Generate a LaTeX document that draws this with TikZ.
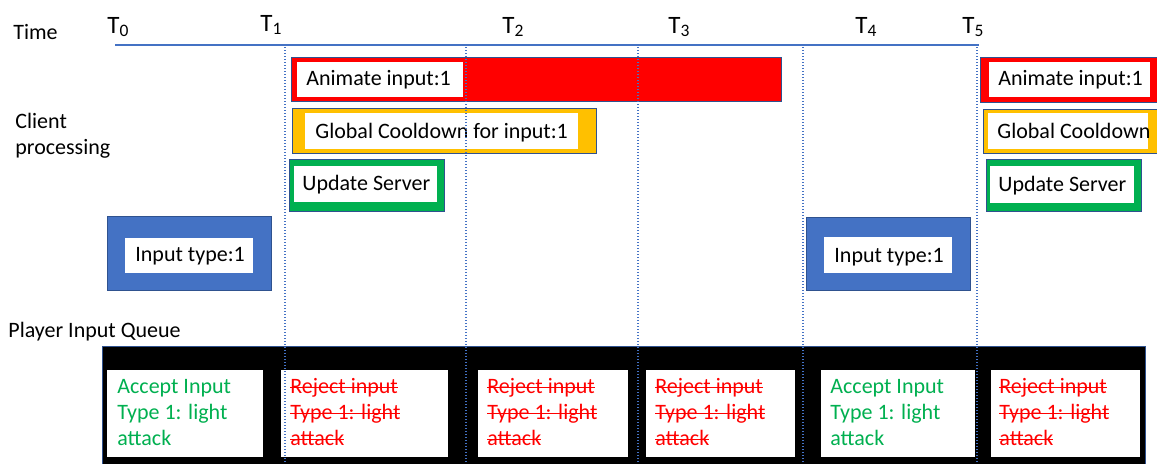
\documentclass[tikz,border=0pt]{standalone}
\usepackage{fontspec}
\setmainfont{Carlito}
\definecolor{boxblue}{HTML}{4472C4}
\definecolor{edgeblue}{HTML}{2F528F}
\definecolor{cdorange}{HTML}{FFC000}
\definecolor{srvgreen}{HTML}{00B050}
\newsavebox\strkbox
\newcommand{\strk}[1]{\sbox\strkbox{#1}\rlap{\usebox\strkbox}\rule[0.22em]{\wd\strkbox}{0.8pt}}

\begin{document}
\begin{tikzpicture}[x=0.5pt, y=-0.5pt,
    lbl/.style={anchor=base west, inner sep=0pt, font=\fontsize{11}{13}\selectfont},
    tlbl/.style={anchor=base west, inner sep=0pt, font=\fontsize{12.5}{14}\selectfont},
    bar/.style={draw=edgeblue, line width=0.5pt},
    tick/.style={boxblue, line width=0.7pt, dash pattern=on 0.7pt off 0.8pt},
    accept/.style={lbl, align=left, text=srvgreen},
    reject/.style={lbl, align=left, text=red}]
    \useasboundingbox (0,0) rectangle (1157,463);
    \clip (0,0) rectangle (1157,463);
    % Time axis
    \coordinate (t0) at (115,45);
    \coordinate (tend) at (979,45);
    \draw[boxblue, line width=0.6pt] (t0) -- (tend);
    \node[lbl] (time) at (13,39) {Time};
    \node[tlbl] (T0) at (107,33) {T\textsubscript{0}};
    \node[tlbl] (T1) at (260,31) {T\textsubscript{1}};
    \node[tlbl] (T2) at (502,33) {T\textsubscript{2}};
    \node[tlbl] (T3) at (668,33) {T\textsubscript{3}};
    \node[tlbl] (T4) at (855,33) {T\textsubscript{4}};
    \node[tlbl] (T5) at (962,33) {T\textsubscript{5}};
    % Client processing
    \node[lbl] (client) at (15,128) {Client};
    \node[lbl] (proc) at (15,154) {processing};
    \fill[red, bar] (291,57) rectangle (781,101);
    \fill[white] (297,62) rectangle (463,97);
    \node[lbl] (anim1) at (306,85) {Animate input:1};
    \fill[cdorange, bar] (292,108) rectangle (596,153);
    \fill[white] (305,113) rectangle (578,149);
    \node[lbl] (cool1) at (315,138) {Global Cooldown for input:1};
    \fill[srvgreen, bar] (289,159) rectangle (444,211);
    \fill[white] (294,166) rectangle (437,202);
    \node[lbl] (srv1) at (302,190) {Update Server};
    \fill[red, bar] (980,57) rectangle (1170,102);
    \fill[white] (989,62) rectangle (1150,97);
    \node[lbl] (anim2) at (998,85) {Animate input:1};
    \fill[cdorange, bar] (983,109) rectangle (1170,153);
    \fill[white] (988,113) rectangle (1148,149);
    \node[lbl] (cool2) at (997,138) {Global Cooldown};
    \fill[srvgreen, bar] (986,159) rectangle (1141,211);
    \fill[white] (990,166) rectangle (1134,203);
    \node[lbl] (srv2) at (998,191) {Update Server};
    % Inputs
    \fill[boxblue, bar] (107,216) rectangle (271,290);
    \fill[white] (125,238) rectangle (253,273);
    \node[lbl] (in1) at (135,261) {Input type:1};
    \fill[boxblue, bar] (806,217) rectangle (970,290);
    \fill[white] (824,237) rectangle (952,273);
    \node[lbl] (in2) at (834,262) {Input type:1};
    % Player input queue
    \node[lbl] (queue) at (8,337) {Player Input Queue};
    \fill[black, bar] (102,346) rectangle (1145,480);
    \foreach \a/\b in {107/263, 281/448, 478/628, 646/795, 821/975, 991/1140}
        \fill[white] (\a,370) rectangle (\b,457);
    \node[accept] (q1) at (117,445) {Accept Input\\Type 1: light\\attack};
    \node[reject] (q2) at (290,445) {\strk{Reject input}\\\strk{Type 1: light}\\\strk{attack}};
    \node[reject] (q3) at (487,445) {\strk{Reject input}\\\strk{Type 1: light}\\\strk{attack}};
    \node[reject] (q4) at (655,445) {\strk{Reject input}\\\strk{Type 1: light}\\\strk{attack}};
    \node[accept] (q5) at (830,445) {Accept Input\\Type 1: light\\attack};
    \node[reject] (q6) at (999,445) {\strk{Reject input}\\\strk{Type 1: light}\\\strk{attack}};
    % Time markers
    \foreach \x/\n in {285/1, 466/2, 638/3, 803/4, 977/5}
        \draw[tick] (\x,47) coordinate (d\n) -- (\x,463);
\end{tikzpicture}
\end{document}
